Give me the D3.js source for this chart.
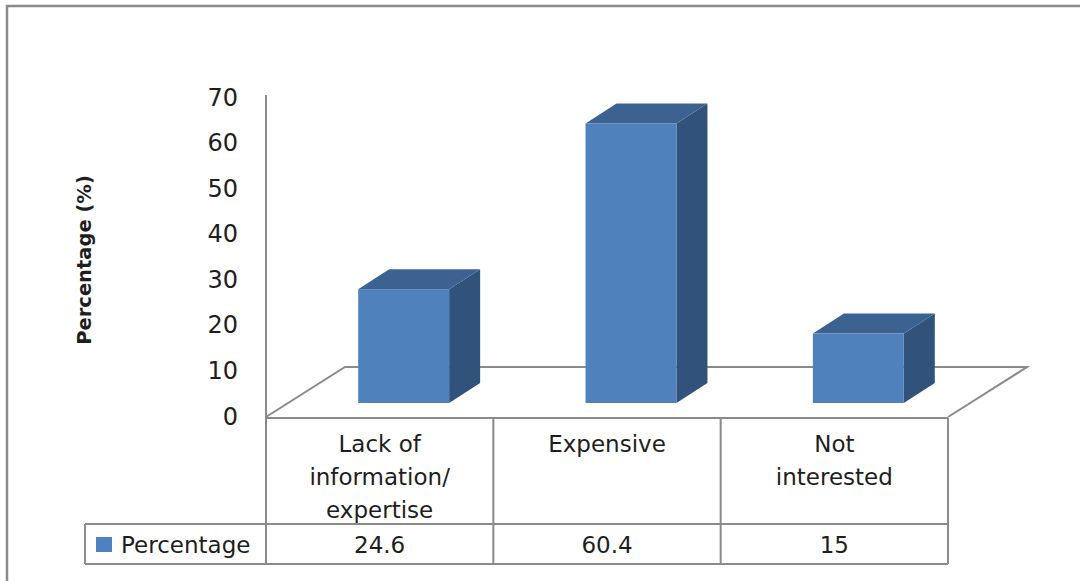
<!DOCTYPE html>
<html>
<head>
<meta charset="utf-8">
<script src="https://cdn.jsdelivr.net/npm/d3@7"></script>
<style>
  html, body { margin: 0; padding: 0; background: #fff; }
  svg { display: block; }
  text { font-family: "DejaVu Sans", sans-serif; fill: #1e1e1e; }
</style>
</head>
<body>
<svg id="chart" width="1080" height="581"></svg>
<script>
// Reasons for not adopting, in percent
const categories = ["Lack of information/ expertise", "Expensive", "Not interested"];
const categoryLines = [["Lack of", "information/", "expertise"], ["Expensive"], ["Not", "interested"]];
const seriesName = "Percentage";
const values = [24.6, 60.4, 15];
const tickValues = [0, 10, 20, 30, 40, 50, 60, 70];

const svg = d3.select("#chart");
const grid = "#8a8a8a";

// outer frame of the chart area
svg.append("rect")
  .attr("x", 7).attr("y", 6).attr("width", 1200).attr("height", 1000)
  .attr("fill", "none").attr("stroke", grid).attr("stroke-width", 2.5);

// layout
const left = 266, right = 948;
const floorFront = 417, floorDepthX = 79, floorDepthY = 50;
const barShift = 24;            // bars sit halfway into the floor depth
const barDepthX = 31, barDepthY = 20;
const tableTop = 418, tableMid = 524, tableBottom = 564, legendLeft = 85;

const x = d3.scaleBand().domain(categories).range([left, right])
  .paddingInner(0.6).paddingOuter(0.3);
// axis labels on the front plane, bars a little deeper
const yAxis = d3.scaleLinear().domain([0, 70]).range([416, 97]);
const yBar = d3.scaleLinear().domain([0, 70]).range([403, 79]);

// vertical value axis
svg.append("line")
  .attr("x1", left).attr("x2", left).attr("y1", yAxis(70) - 2).attr("y2", tableBottom)
  .attr("stroke", grid).attr("stroke-width", 2);

const axis = d3.axisLeft(yAxis).tickValues(tickValues).tickSize(0).tickPadding(0);
const axisG = svg.append("g").attr("transform", "translate(238,0)").call(axis);
axisG.select(".domain").remove();
axisG.selectAll("text")
  .attr("font-size", 24).attr("font-family", "DejaVu Sans").attr("fill", "#1e1e1e")
  .attr("dy", null).attr("x", 0)
  .attr("dominant-baseline", "central");

// floor of the 3-D plot
svg.append("path")
  .attr("d", `M${left},${floorFront} L${left + floorDepthX},${floorFront - floorDepthY}
              L${right + floorDepthX},${floorFront - floorDepthY} L${right},${floorFront}`)
  .attr("fill", "none").attr("stroke", grid).attr("stroke-width", 2);

// 3-D bars
const bw = x.bandwidth();
const bars = svg.append("g").selectAll("g").data(values).join("g");
bars.each(function(v, i) {
  const g = d3.select(this);
  const x0 = x(categories[i]) + barShift, x1 = x0 + bw;
  const yt = yBar(v), yb = yBar(0);
  g.append("path")
    .attr("d", `M${x1},${yt} L${x1 + barDepthX},${yt - barDepthY} L${x1 + barDepthX},${yb - barDepthY} L${x1},${yb}Z`)
    .attr("fill", "#31527a");
  g.append("path")
    .attr("d", `M${x0},${yt} L${x0 + barDepthX},${yt - barDepthY} L${x1 + barDepthX},${yt - barDepthY} L${x1},${yt}Z`)
    .attr("fill", "#3c6292");
  g.append("rect")
    .attr("x", x0).attr("y", yt).attr("width", bw).attr("height", yb - yt)
    .attr("fill", "#4f81bd");
});

// data table under the plot
const table = svg.append("g").attr("stroke", grid).attr("stroke-width", 2).attr("fill", "none");
table.append("line").attr("x1", left).attr("x2", right).attr("y1", tableTop).attr("y2", tableTop);
table.append("line").attr("x1", legendLeft).attr("x2", right).attr("y1", tableMid).attr("y2", tableMid);
table.append("line").attr("x1", legendLeft).attr("x2", right).attr("y1", tableBottom).attr("y2", tableBottom);
table.append("line").attr("x1", legendLeft).attr("x2", legendLeft).attr("y1", tableMid).attr("y2", tableBottom);
const step = x.step();
d3.range(1, categories.length + 1).forEach(k => {
  const cx = left + k * step;
  table.append("line").attr("x1", cx).attr("x2", cx).attr("y1", tableTop).attr("y2", tableBottom);
});

// category labels
categories.forEach((c, i) => {
  const cx = x(c) + bw / 2;
  const t = svg.append("text").attr("text-anchor", "middle").attr("font-size", 23);
  categoryLines[i].forEach((line, j) => {
    t.append("tspan").attr("x", cx).attr("y", 452 + j * 33).text(line);
  });
});

// values row
values.forEach((v, i) => {
  svg.append("text")
    .attr("x", x(categories[i]) + bw / 2).attr("y", 553)
    .attr("text-anchor", "middle").attr("font-size", 23)
    .text(v);
});

// legend key in the table
svg.append("rect").attr("x", 96).attr("y", 537).attr("width", 16).attr("height", 15).attr("fill", "#4f81bd");
svg.append("text").attr("x", 121).attr("y", 553).attr("font-size", 23).text(seriesName);

// axis title
svg.append("text")
  .attr("transform", "translate(91,260) rotate(-90)")
  .attr("text-anchor", "middle")
  .attr("font-size", 19.5).attr("font-weight", "bold")
  .text("Percentage (%)");
</script>
</body>
</html>
